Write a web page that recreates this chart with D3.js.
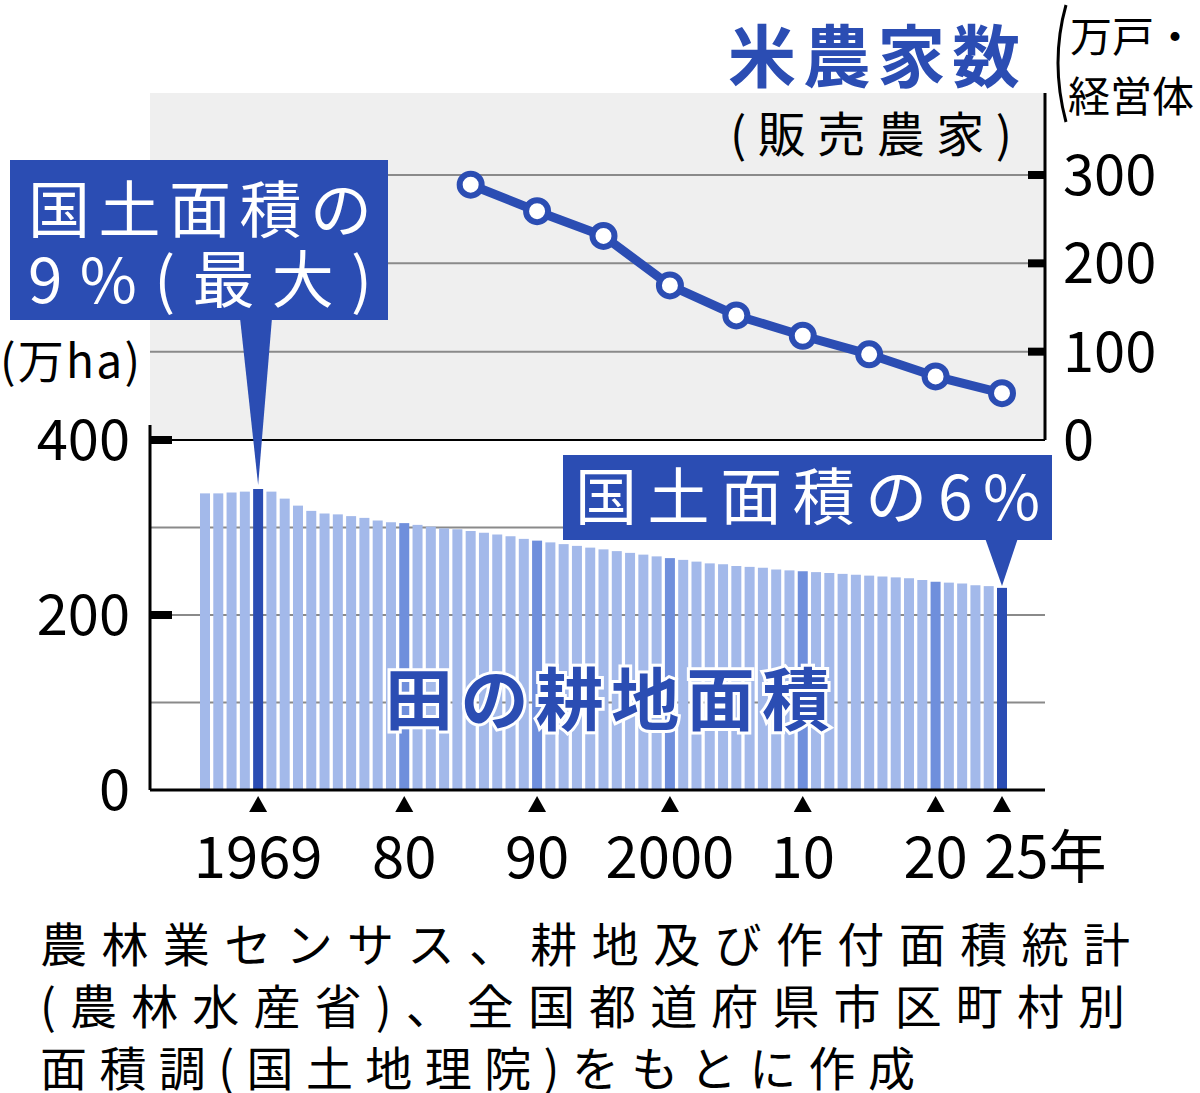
<!DOCTYPE html>
<html><head><meta charset="utf-8">
<script src="https://cdn.jsdelivr.net/npm/d3@7"></script>
<style>body{margin:0;background:#fff}text{font-family:"Noto Sans CJK JP",sans-serif}</style>
</head><body><svg id="c" width="1200" height="1093"></svg>
<script>
// 田の耕地面積 (万ha), 1965-2025
const areaYears = d3.range(1965, 2026);
const areaValues = [339,339,340,341,344,341,333,325,319,316,315,313,311,308,306,305,303,301,299,298,296,294,292,290,287,285,283,281,279,277,275,273,271,269,267,265,263,261,259,258,256,255,254,252,251,250,249,248,247,246,245,244,243,242,240,238,237,236,234,233,231];
const darkYears = [1969, 1980, 1990, 2000, 2010, 2020, 2025];
// 米農家数 (万戸・経営体)
const farmYears = [1985, 1990, 1995, 2000, 2005, 2010, 2015, 2020, 2025];
const farmValues = [289, 259, 231, 175, 141, 118, 97, 72, 53];
const tickYears = [1969, 1980, 1990, 2000, 2010, 2020, 2025];
const tickLabels = ["1969", "80", "90", "2000", "10", "20", "25年"];

const blue = "#2b4db3", light = "#a3b9ea";
const svg = d3.select("#c");
const x = d3.scaleLinear().domain([1965, 2025]).range([205, 1002]);
const yA = d3.scaleLinear().domain([0, 400]).range([790, 440]);
const yF = d3.scaleLinear().domain([0, 300]).range([440, 175]);

// top panel background
svg.append("rect").attr("x", 150).attr("y", 93).attr("width", 895).attr("height", 347).attr("fill", "#efefef");

// grid lines
[100, 200, 300].forEach(v => svg.append("line").attr("x1", 150).attr("x2", 1045)
  .attr("y1", yA(v)).attr("y2", yA(v)).attr("stroke", "#8a8a8a").attr("stroke-width", 2));
[100, 200, 300].forEach(v => svg.append("line").attr("x1", 150).attr("x2", 1045)
  .attr("y1", yF(v)).attr("y2", yF(v)).attr("stroke", "#8a8a8a").attr("stroke-width", 2));

// bars
svg.selectAll(".bar").data(areaYears).join("rect")
  .attr("x", d => x(d) - 5).attr("width", 10)
  .attr("y", (d, i) => yA(areaValues[i])).attr("height", (d, i) => 790 - yA(areaValues[i]))
  .attr("fill", d => darkYears.includes(d) ? (d === 1969 || d === 2025 ? blue : "#6f8fdc") : light);

// axes
svg.append("line").attr("x1", 150).attr("x2", 150).attr("y1", 425).attr("y2", 790).attr("stroke", "#000").attr("stroke-width", 3);
svg.append("line").attr("x1", 150).attr("x2", 1045).attr("y1", 790).attr("y2", 790).attr("stroke", "#000").attr("stroke-width", 3);
svg.append("line").attr("x1", 1045).attr("x2", 1045).attr("y1", 93).attr("y2", 440).attr("stroke", "#000").attr("stroke-width", 3);
svg.append("line").attr("x1", 150).attr("x2", 1045).attr("y1", 440).attr("y2", 440).attr("stroke", "#000").attr("stroke-width", 2);

[0, 200, 400].forEach(v => {
  if (v > 0) svg.append("line").attr("x1", 150).attr("x2", 172).attr("y1", yA(v)).attr("y2", yA(v)).attr("stroke", "#000").attr("stroke-width", 8);
  svg.append("text").attr("x", 130).attr("y", yA(v) + 20).attr("text-anchor", "end").attr("font-size", 56).text(v);
});
svg.append("text").attr("x", 0).attr("y", 378).attr("font-size", 46).attr("textLength", 140).text("(万ha)");

[0, 100, 200, 300].forEach(v => {
  if (v > 0) svg.append("line").attr("x1", 1028).attr("x2", 1045).attr("y1", yF(v)).attr("y2", yF(v)).attr("stroke", "#000").attr("stroke-width", 8);
  svg.append("text").attr("x", 1063).attr("y", yF(v) + 20).attr("font-size", 56).text(v);
});
svg.append("text").attr("x", 1070).attr("y", 52).attr("font-size", 42).text("万戸・");
svg.append("text").attr("x", 1068).attr("y", 112).attr("font-size", 42).text("経営体");
svg.append("path").attr("d", "M1066,5 Q1050,62 1066,122").attr("fill", "none").attr("stroke", "#000").attr("stroke-width", 3);

// x ticks
tickYears.forEach((yr, i) => {
  svg.append("path").attr("d", `M${x(yr)},796 l-9,16 h18 z`).attr("fill", "#000");
  const t = svg.append("text").attr("y", 878).attr("font-size", 58).text(tickLabels[i]);
  if (i === 6) t.attr("x", x(yr) - 18); else t.attr("x", x(yr)).attr("text-anchor", "middle");
});

// line
const line = d3.line().x((d, i) => x(farmYears[i])).y(d => yF(d));
svg.append("path").datum(farmValues).attr("d", line).attr("fill", "none").attr("stroke", blue).attr("stroke-width", 9);
svg.selectAll(".pt").data(farmValues).join("circle")
  .attr("cx", (d, i) => x(farmYears[i])).attr("cy", d => yF(d)).attr("r", 11)
  .attr("fill", "#fff").attr("stroke", blue).attr("stroke-width", 6);

svg.append("text").attr("x", 728).attr("y", 82).attr("font-size", 68).attr("font-weight", "bold").attr("fill", blue)
  .attr("textLength", 292).text("米農家数");
svg.append("text").attr("x", 730).attr("y", 152).attr("font-size", 48).attr("textLength", 282).text("(販売農家)");

// callouts
svg.append("path").attr("d", `M240,318 L${x(1969)},${yA(344) - 4} L272,318 z`).attr("fill", blue);
svg.append("rect").attr("x", 10).attr("y", 160).attr("width", 378).attr("height", 160).attr("fill", blue);
svg.append("text").attr("x", 28).attr("y", 233).attr("fill", "#fff").attr("font-size", 62).attr("textLength", 344).text("国土面積の");
svg.append("text").attr("x", 28).attr("y", 303).attr("fill", "#fff").attr("font-size", 62).attr("textLength", 344).text("9%(最大)");

svg.append("path").attr("d", `M985,538 L${x(2025)},${yA(231) - 2} L1018,538 z`).attr("fill", blue);
svg.append("rect").attr("x", 563).attr("y", 455).attr("width", 489).attr("height", 85).attr("fill", blue);
svg.append("text").attr("x", 575).attr("y", 520).attr("fill", "#fff").attr("font-size", 62).attr("textLength", 465).text("国土面積の6%");

svg.append("text").attr("x", 385).attr("y", 725).attr("font-size", 68).attr("font-weight", "bold").attr("textLength", 445)
  .attr("fill", blue).attr("stroke", "#fff").attr("stroke-width", 6).attr("paint-order", "stroke").text("田の耕地面積");

// source
const srcLines = ["農林業センサス、耕地及び作付面積統計", "(農林水産省)、全国都道府県市区町村別", "面積調(国土地理院)をもとに作成"];
const srcWidths = [1090, 1085, 875];
srcLines.forEach((s, i) =>
  svg.append("text").attr("x", 40).attr("y", 962 + i * 62).attr("font-size", 47).attr("textLength", srcWidths[i]).text(s));
</script></body></html>
